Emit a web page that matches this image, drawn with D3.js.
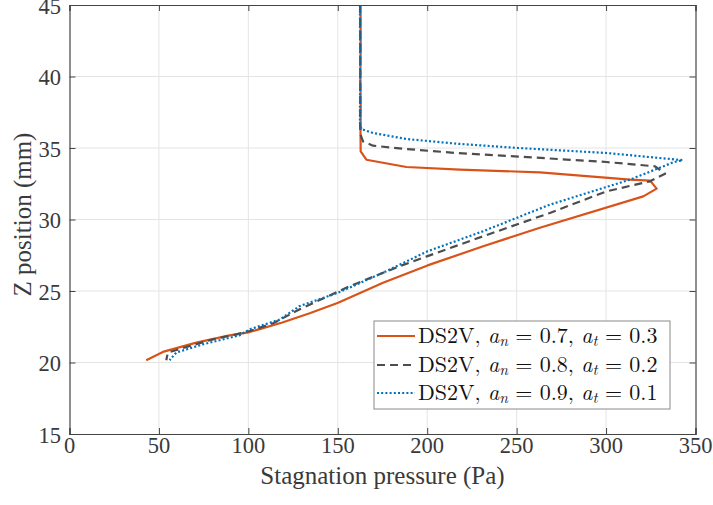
<!DOCTYPE html>
<html>
<head>
<meta charset="utf-8">
<script src="https://cdn.jsdelivr.net/npm/d3@7"></script>
<style>
  html, body { margin: 0; padding: 0; background: #fff; }
  svg { display: block; }
</style>
</head>
<body>
<svg id="chart" width="713" height="505"></svg>
<script>
// ---------------- data ----------------
const xTicks = [0, 50, 100, 150, 200, 250, 300, 350];
const yTicks = [15, 20, 25, 30, 35, 40, 45];
const xLabel = "Stagnation pressure (Pa)";
const yLabel = "Z position (mm)";

// Series 1: DS2V, a_n = 0.7, a_t = 0.3
const z07 = [45, 42, 40, 38, 36, 34.76, 34.18, 33.67, 33.49, 33.3, 32.79, 32.72, 32.16, 31.62, 29.42, 28.13, 26.79, 25.58, 24.18, 23.44, 22.8, 22.13, 21.9, 21.39, 20.74, 20.16];
const p07 = [162.7, 162.8, 162.6, 162.8, 162.7, 162.8, 166, 188.4, 218.2, 263, 313.4, 324.6, 328.3, 320.8, 263, 231.3, 200.2, 175.3, 150.2, 134.3, 119, 100.7, 89.5, 70.9, 52.2, 42.9];

// Series 2: DS2V, a_n = 0.8, a_t = 0.2
const z08 = [45, 40, 36.5, 35.93, 35.46, 35.16, 34.93, 34.65, 34.4, 34.02, 33.72, 33.2, 32.67, 31.97, 30.46, 28.83, 27.44, 26.74, 25.34, 23.72, 22.74, 22.2, 21.97, 21.62, 20.7, 20.16];
const p08 = [162.5, 162.6, 162.5, 162.7, 164.1, 169.7, 188.4, 216.4, 251, 300.3, 327.4, 333, 324.6, 300.3, 268.6, 231.3, 200.2, 184.7, 156.7, 128.7, 113.8, 100.7, 93.3, 80.2, 55, 54.1];

// Series 3: DS2V, a_n = 0.9, a_t = 0.1
const z09 = [45, 40, 37, 36.74, 36.32, 36.05, 35.63, 35.3, 35.0, 34.65, 34.15, 34.0, 32.79, 31.04, 29.18, 27.78, 26.28, 24.88, 23.95, 23.0, 22.32, 21.9, 21.27, 20.7, 20.16];
const p09 = [162.4, 162.5, 162.4, 162.4, 163.2, 169.7, 188.4, 216.4, 251, 300.3, 342.8, 337.6, 313.4, 268.6, 231.3, 200.2, 175.3, 150.2, 128.7, 117.5, 100.7, 95.1, 74.6, 59.7, 56];

const seriesNames = ["0.7", "0.8", "0.9"];
const seriesAt = ["0.3", "0.2", "0.1"];

// ---------------- layout ----------------
const FONT = "Liberation Serif";
const LFONT = "Latin Modern Roman";
const svg = d3.select("#chart");
const L = 69.5, R = 695.5, T = 5, B = 434;
const x = d3.scaleLinear().domain([0, 350]).range([L, R]);
const y = d3.scaleLinear().domain([15, 45]).range([B, T]);

const axisColor = "#444";
const textColor = "#3a3a3a";

// grid
const grid = svg.append("g");
grid.selectAll("line.gx").data(xTicks.slice(1, -1)).enter().append("line")
  .attr("x1", d => x(d)).attr("x2", d => x(d)).attr("y1", T).attr("y2", B)
  .attr("stroke", "#e4e4e4").attr("stroke-width", 1);
grid.selectAll("line.gy").data(yTicks.slice(1, -1)).enter().append("line")
  .attr("y1", d => y(d)).attr("y2", d => y(d)).attr("x1", L).attr("x2", R)
  .attr("stroke", "#e4e4e4").attr("stroke-width", 1);

// series
const styles = [
  { color: "#D95319", dash: null },
  { color: "#4D4D4D", dash: "8,5" },
  { color: "#0072BD", dash: "2,2.2" }
];
const series = [
  { z: z07, p: p07 },
  { z: z08, p: p08 },
  { z: z09, p: p09 }
];
const line = d3.line().x(d => x(d[0])).y(d => y(d[1]));
series.forEach((s, i) => {
  const pts = s.p.map((v, k) => [v, s.z[k]]);
  const path = svg.append("path").datum(pts)
    .attr("d", line)
    .attr("fill", "none")
    .attr("stroke", styles[i].color)
    .attr("stroke-width", 2.2)
    .attr("stroke-linejoin", "round");
  if (styles[i].dash) path.attr("stroke-dasharray", styles[i].dash);
});

// axes (MATLAB-style box, inward ticks)
const tk = 6;
const axG = svg.append("g");
const xAxisB = d3.axisBottom(x).tickValues(xTicks).tickSize(-tk).tickFormat("");
const xAxisT = d3.axisTop(x).tickValues(xTicks).tickSize(-tk).tickFormat("");
const yAxisL = d3.axisLeft(y).tickValues(yTicks).tickSize(-tk).tickFormat("");
const yAxisR = d3.axisRight(y).tickValues(yTicks).tickSize(-tk).tickFormat("");
[[xAxisB, `translate(0,${B})`], [xAxisT, `translate(0,${T})`],
 [yAxisL, `translate(${L},0)`], [yAxisR, `translate(${R},0)`]].forEach(([ax, tr]) => {
  const g = axG.append("g").attr("transform", tr).call(ax);
  g.select(".domain").attr("stroke", axisColor).attr("stroke-width", 1.2);
  g.selectAll(".tick line").attr("stroke", axisColor).attr("stroke-width", 1);
});

// tick labels
svg.append("g").selectAll("text").data(xTicks).enter().append("text")
  .attr("x", d => x(d)).attr("y", 453)
  .attr("text-anchor", "middle").style("font-family", FONT)
  .attr("font-size", 22.5).attr("fill", textColor)
  .text(d => d);
svg.append("g").selectAll("text").data(yTicks).enter().append("text")
  .attr("x", 61).attr("y", d => y(d) + 8.5)
  .attr("text-anchor", "end").style("font-family", FONT)
  .attr("font-size", 22.5).attr("fill", textColor)
  .text(d => d);

// axis labels
svg.append("text").attr("x", (L + R) / 2).attr("y", 484)
  .attr("text-anchor", "middle").attr("font-size", 25).attr("fill", textColor)
  .style("font-family", FONT)
  .text(xLabel);
svg.append("text").attr("transform", `translate(31,${(T + B) / 2 - 5}) rotate(-90)`)
  .attr("text-anchor", "middle").attr("font-size", 25).attr("fill", textColor)
  .style("font-family", FONT)
  .text(yLabel);

// legend
const lg = svg.append("g");
const lx = 374, ly = 321, lw = 296, lh = 88;
lg.append("rect").attr("x", lx).attr("y", ly).attr("width", lw).attr("height", lh)
  .attr("fill", "#fff").attr("stroke", "#8a8a8a").attr("stroke-width", 1);
const rowY = [336, 365, 393];
const fs = 22;
seriesNames.forEach((an, i) => {
  const yy = rowY[i];
  const ln = lg.append("line").attr("x1", 377).attr("x2", 415).attr("y1", yy).attr("y2", yy)
    .attr("stroke", styles[i].color).attr("stroke-width", 2.2);
  if (styles[i].dash) ln.attr("stroke-dasharray", styles[i].dash);
  const t = lg.append("text").attr("x", 418).attr("y", yy + 6.5)
    .style("font-family", LFONT)
    .attr("font-size", fs).attr("fill", "#111");
  t.append("tspan").text("DS2V, ");
  t.append("tspan").attr("font-style", "italic").text("a");
  t.append("tspan").attr("font-style", "italic").attr("font-size", fs * 0.7).attr("dy", 3).text("n");
  t.append("tspan").attr("dy", -3).text(" = " + an + ", ");
  t.append("tspan").attr("font-style", "italic").text("a");
  t.append("tspan").attr("font-style", "italic").attr("font-size", fs * 0.7).attr("dy", 3).text("t");
  t.append("tspan").attr("dy", -3).text(" = " + seriesAt[i]);
});
</script>
</body>
</html>
